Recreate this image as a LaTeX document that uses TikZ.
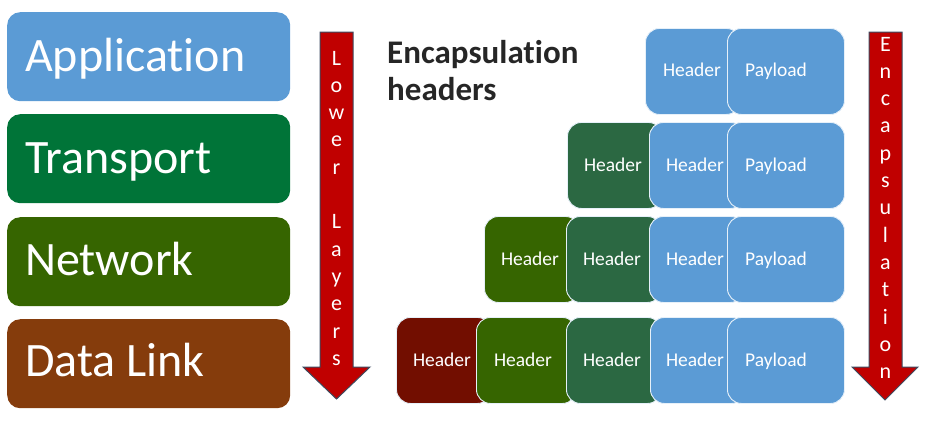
\documentclass[tikz,border=0pt]{standalone}
\usepackage{fontspec}
\setmainfont[Ligatures=NoCommon]{Carlito}
\definecolor{appblue}{RGB}{91,155,213}
\definecolor{transgreen}{RGB}{0,116,56}
\definecolor{netgreen}{RGB}{54,101,0}
\definecolor{dlbrown}{RGB}{133,60,12}
\definecolor{hdrgreen}{RGB}{43,104,66}
\definecolor{hdrred}{RGB}{114,14,0}
\definecolor{arrred}{RGB}{192,0,0}
\definecolor{arrborder}{RGB}{60,75,95}
\definecolor{headtext}{RGB}{38,38,38}
\tikzset{
  layerbox/.style={rounded corners=13pt, inner sep=0pt, anchor=north west, minimum width=283pt, minimum height=89pt},
  layertext/.style={anchor=base west, inner sep=0pt, text=white, font=\fontsize{48}{50}\selectfont},
  encbox/.style={rounded corners=14pt, inner sep=0pt, anchor=north west, minimum height=86pt, draw=white!85!appblue, line width=0.9pt},
  enctext/.style={anchor=base, inner sep=0pt, text=white, font=\fontsize{19.5}{22}\selectfont},
  arrowshape/.style={fill=arrred, draw=arrborder, line width=1pt},
  vletter/.style={anchor=base, inner sep=0pt, text=white, font=\fontsize{22}{24}\selectfont},
  headstyle/.style={anchor=base west, inner sep=0pt, text=headtext, font=\fontsize{33}{37}\selectfont\bfseries}
}
\begin{document}
\begin{tikzpicture}[x=1pt,y=-1pt]
\useasboundingbox (0,0) rectangle (933,432);
% layers
\node[layerbox, fill=appblue] (app) at (7,12) {};
\node[layertext] (appt) at (25,71) {Application};
\node[layerbox, fill=transgreen] (tra) at (7,114) {};
\node[layertext] (trat) at (25,173) {Transport};
\node[layerbox, fill=netgreen] (net) at (7,217) {};
\node[layertext] (nett) at (25,275) {Network};
\node[layerbox, fill=dlbrown] (dl) at (7,319) {};
\node[layertext] (dlt) at (25,376) {Data Link};
% lower layers arrow
\draw[arrowshape] (320,32) -- (353,32) -- (353,367) -- (370,367) -- (336.5,399) -- (303,367) -- (320,367) -- cycle;
\foreach \c [count=\i] in {L,o,w,e,r,{},L,a,y,e,r,s}
  \node[vletter] (ll\i) at (336.5,{65+27.3*(\i-1)}) {\c};
% encapsulation arrow
\draw[arrowshape] (869,32) -- (902,32) -- (902,367) -- (918,367) -- (885,400) -- (852,367) -- (869,367) -- cycle;
\foreach \c [count=\i] in {E,n,c,a,p,s,u,l,a,t,i,o,n}
  \node[vletter] (en\i) at (885.5,{51+27.3*(\i-1)}) {\c};
% heading
\node[headstyle] (h1) at (387,63) {Encapsulation};
\node[headstyle] (h2) at (387,100) {headers};
% row 1
\node[encbox, fill=appblue, minimum width=95pt] (r1a) at (645,28) {};
\node[enctext] (r1at) at (692,76) {Header};
\node[encbox, fill=appblue, minimum width=117pt] (r1b) at (727,28) {};
\node[enctext] (r1bt) at (776,76) {Payload};
% row 2
\node[encbox, fill=hdrgreen, minimum width=95pt] (r2a) at (567,122) {};
\node[enctext] (r2at) at (613,171) {Header};
\node[encbox, fill=appblue, minimum width=95pt] (r2b) at (649,122) {};
\node[enctext] (r2bt) at (695,171) {Header};
\node[encbox, fill=appblue, minimum width=117pt] (r2c) at (727,122) {};
\node[enctext] (r2ct) at (776,171) {Payload};
% row 3
\node[encbox, fill=netgreen, minimum width=95pt] (r3a) at (484,216) {};
\node[enctext] (r3at) at (530,265) {Header};
\node[encbox, fill=hdrgreen, minimum width=95pt] (r3b) at (566,216) {};
\node[enctext] (r3bt) at (612,265) {Header};
\node[encbox, fill=appblue, minimum width=95pt] (r3c) at (649,216) {};
\node[enctext] (r3ct) at (695,265) {Header};
\node[encbox, fill=appblue, minimum width=117pt] (r3d) at (727,216) {};
\node[enctext] (r3dt) at (776,265) {Payload};
% row 4
\node[encbox, fill=hdrred, minimum width=95pt] (r4a) at (396,317) {};
\node[enctext] (r4at) at (442,366) {Header};
\node[encbox, fill=netgreen, minimum width=100pt] (r4b) at (476,317) {};
\node[enctext] (r4bt) at (523,366) {Header};
\node[encbox, fill=hdrgreen, minimum width=95pt] (r4c) at (566,317) {};
\node[enctext] (r4ct) at (612,366) {Header};
\node[encbox, fill=appblue, minimum width=95pt] (r4d) at (650,317) {};
\node[enctext] (r4dt) at (695,366) {Header};
\node[encbox, fill=appblue, minimum width=117pt] (r4e) at (727,317) {};
\node[enctext] (r4et) at (776,366) {Payload};
\end{tikzpicture}
\end{document}
